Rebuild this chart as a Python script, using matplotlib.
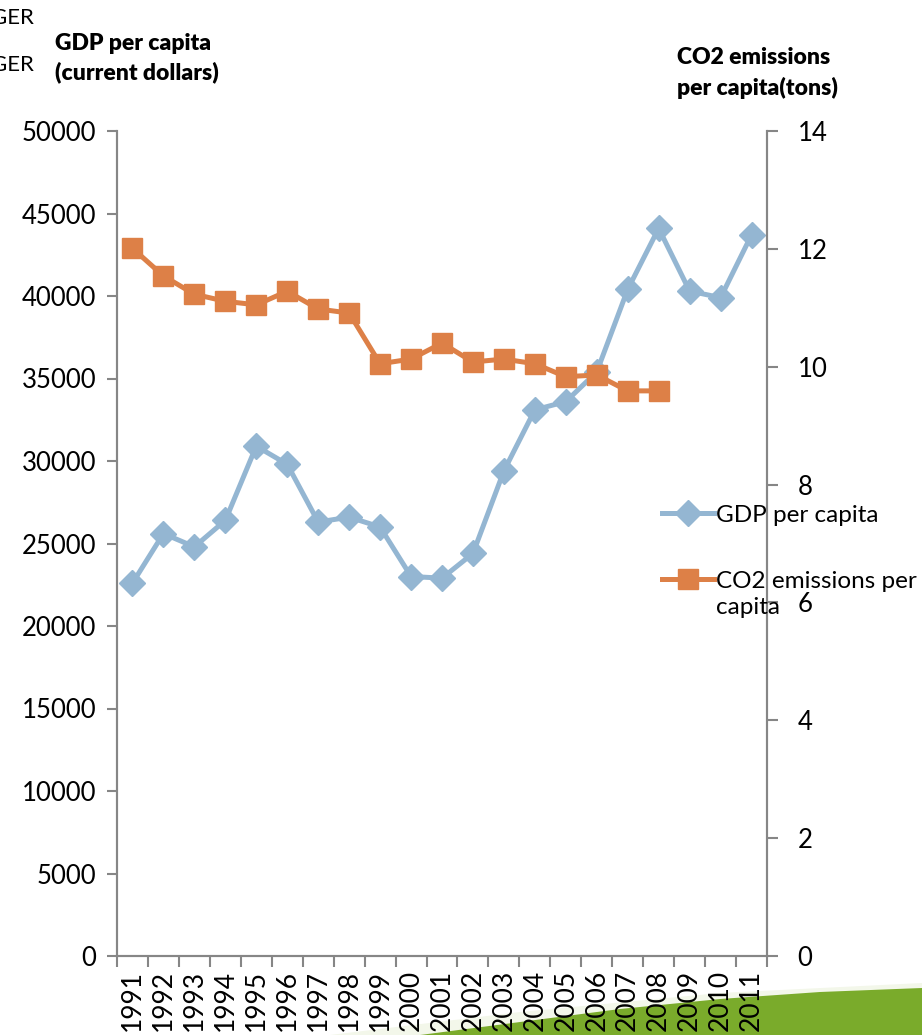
import matplotlib
matplotlib.use("Agg")
import matplotlib.pyplot as plt
from matplotlib.patches import Polygon
import numpy as np

plt.rcParams['font.family'] = ['Lato', 'DejaVu Sans']

years = [str(y) for y in range(1991, 2012)]
gdp = [22600, 25600, 24800, 26400, 30900, 29800, 26300, 26600, 26000, 23000,
       22900, 24400, 29400, 33100, 33600, 35400, 40400, 44100, 40300, 39900, 43700]
co2 = [12.01, 11.54, 11.23, 11.11, 11.05, 11.28, 10.98, 10.91, 10.05, 10.13,
       10.40, 10.08, 10.13, 10.05, 9.83, 9.86, 9.59, 9.59]
gdp_ticks = list(range(0, 50001, 5000))
co2_ticks = list(range(0, 15, 2))
series_names = ['GDP per capita', 'CO2 emissions per capita']

W, H = 922, 1035
fig = plt.figure(figsize=(W / 100, H / 100), dpi=100)
fig.patch.set_facecolor('white')


def to_fig(points):
    return [(px / W, 1 - py / H) for px, py in points]


# green swoosh in the lower right corner, behind everything else
haze = [(330, 1035), (520, 1012), (720, 993), (922, 983), (922, 990), (720, 999),
        (520, 1022), (420, 1035)]
fig.patches.append(Polygon(to_fig(haze), closed=True, transform=fig.transFigure,
                           facecolor='#f3f7ea', edgecolor='none', zorder=-2))
swoosh = [(420, 1035), (520, 1022), (620, 1009), (720, 999), (820, 992),
          (922, 988), (922, 1035)]
fig.patches.append(Polygon(to_fig(swoosh), closed=True, transform=fig.transFigure,
                           facecolor='#7aab2b', edgecolor='none', zorder=-1))

ax = fig.add_axes([117 / W, 1 - 956 / H, 650 / W, 825 / H])
ax.patch.set_alpha(0)
ax2 = ax.twinx()
ax2.patch.set_alpha(0)

x = np.arange(len(years))
gdp_color = '#94b6d2'
co2_color = '#dd8047'

l_gdp, = ax.plot(x, gdp, color=gdp_color, lw=3.6, marker='D', markersize=13,
                 label=series_names[0])
l_co2, = ax2.plot(np.arange(len(co2)), co2, color=co2_color, lw=3.6, marker='s',
                  markersize=14.5, label=series_names[1])

ax.set_xlim(-0.5, len(years) - 0.5)
ax.set_ylim(0, 50000)
ax2.set_ylim(0, 14)

spine_color = '#868686'
for a in (ax, ax2):
    a.spines['top'].set_visible(False)
    for s in ('left', 'right', 'bottom'):
        a.spines[s].set_color(spine_color)
        a.spines[s].set_linewidth(1.5)

ax.set_yticks(gdp_ticks)
ax.set_yticklabels([str(t) for t in gdp_ticks])
ax.tick_params(axis='y', direction='out', length=7, width=1.5, color=spine_color,
               labelsize=18.5, pad=8)
ax2.set_yticks(co2_ticks)
ax2.set_yticklabels([str(t) for t in co2_ticks])
ax2.tick_params(axis='y', direction='out', length=8, width=1.5, color=spine_color,
                labelsize=18.5, pad=14)

ax.set_xticks(x)
ax.set_xticklabels(years, rotation=90, fontsize=19)
ax.tick_params(axis='x', which='major', length=0, pad=10)
ax.set_xticks(np.arange(-0.5, len(years)), minor=True)
ax.tick_params(axis='x', which='minor', direction='out', length=8, width=1.5,
               color=spine_color)

fig.text(55 / W, 1 - 58 / H, 'GDP per capita\n(current dollars)', fontsize=16.5,
         fontweight='heavy', ha='left', va='center', linespacing=1.45)
fig.text(677 / W, 1 - 73 / H, 'CO2 emissions\nper capita(tons)', fontsize=16.5,
         fontweight='heavy', ha='left', va='center', linespacing=1.45)
fig.text(34 / W, 1 - 18 / H, 'GER', fontsize=16, ha='right', va='center')
fig.text(34 / W, 1 - 65 / H, 'GER', fontsize=16, ha='right', va='center')

# legend: the long CO2 label wraps, with its marker level with the first line
co2_words = series_names[1].rsplit(' ', 1)
leg = ax2.legend([l_gdp, l_co2], [series_names[0], co2_words[0]], loc='upper left',
                 bbox_to_anchor=(652 / W, 1 - 495 / H), bbox_transform=fig.transFigure,
                 frameon=False, fontsize=17.5, handlelength=2.15, handletextpad=0.1,
                 labelspacing=1.85, borderaxespad=0)
fig.text(716 / W, 1 - 608 / H, co2_words[1], fontsize=17.5, ha='left', va='center')

fig.savefig('out.png', dpi=100, facecolor='white')
